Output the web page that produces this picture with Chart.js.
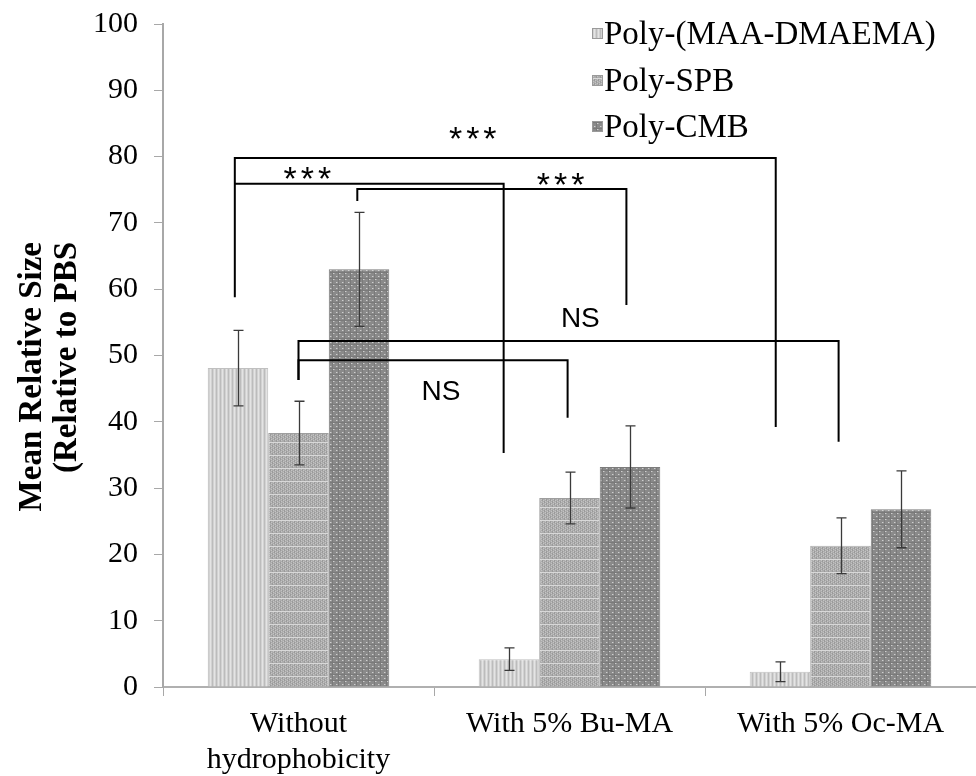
<!DOCTYPE html>
<html>
<head>
<meta charset="utf-8">
<script src="https://cdn.jsdelivr.net/npm/chart.js@4.4.1/dist/chart.umd.min.js"></script>
<style>
html,body{margin:0;padding:0;background:#fff;}
#c{display:block;}
</style>
</head>
<body>
<canvas id="c" width="976" height="776"></canvas>
<script>
// ---- data ----
const categories = [["Without", "hydrophobicity"], "With 5% Bu-MA", "With 5% Oc-MA"];
const seriesNames = ["Poly-(MAA-DMAEMA)", "Poly-SPB", "Poly-CMB"];
const maaValues = [48.1, 4.2, 2.3];
const maaErrors = [5.7, 1.7, 1.5];
const spbValues = [38.3, 28.5, 21.3];
const spbErrors = [4.8, 3.9, 4.2];
const cmbValues = [63.0, 33.2, 26.8];
const cmbErrors = [8.6, 6.2, 5.8];
const yMin = 0, yMax = 100, yStep = 10;
// significance brackets (x in category units, y in data units)
const bracketPaths = [
  [[-0.235, 58.8], [-0.235, 79.8], [1.761, 79.8], [1.761, 39.2]],
  [[-0.235, 75.9], [0.757, 75.9], [0.757, 35.3]],
  [[0.217, 73.3], [0.217, 75.1], [1.21, 75.1], [1.21, 57.6]],
  [[0.0, 46.3], [0.0, 52.2], [1.993, 52.2], [1.993, 37.0]],
  [[0.0, 46.3], [0.0, 49.3], [0.993, 49.3], [0.993, 40.6]]
];
const bracketLabels = [
  ["***", 0.643, 83.4],
  ["***", 0.033, 77.4],
  ["***", 0.967, 76.6],
  ["NS", 1.040, 55.4],
  ["NS", 0.526, 44.5]
];

// ---- patterns ----
function makePattern(w, h, draw) {
  const cv = document.createElement('canvas');
  cv.width = w; cv.height = h;
  const g = cv.getContext('2d');
  draw(g);
  return document.getElementById('c').getContext('2d').createPattern(cv, 'repeat');
}
const patMAA = makePattern(4, 4, g => {
  g.fillStyle = '#d2d2d2'; g.fillRect(0, 0, 4, 4);
  g.fillStyle = '#bcbcbc'; g.fillRect(0, 0, 1, 4);
  g.fillStyle = '#e4e4e4'; g.fillRect(2, 0, 1, 4);
});
const patSPB = makePattern(4, 13, g => {
  g.fillStyle = '#acacac'; g.fillRect(0, 0, 4, 13);
  g.fillStyle = '#9a9a9a';
  for (let y = 0; y < 13; y += 2) { g.fillRect((y % 4 === 0) ? 0 : 2, y, 1, 1); g.fillRect((y % 4 === 0) ? 2 : 0, y + 1, 1, 1); }
  g.fillStyle = '#c4c4c4';
  for (let y = 1; y < 13; y += 2) { g.fillRect(1, y, 1, 1); g.fillRect(3, y - 1, 1, 1); }
  g.fillStyle = '#d8d8d8'; g.fillRect(0, 0, 4, 1);
});
const patCMB = makePattern(6, 6, g => {
  g.fillStyle = '#8a8a8a'; g.fillRect(0, 0, 6, 6);
  g.fillStyle = '#7a7a7a'; g.fillRect(0, 2, 6, 1); g.fillRect(2, 0, 1, 6);
  g.fillStyle = '#cfcfcf'; g.fillRect(0, 0, 1, 1); g.fillRect(3, 3, 1, 1);
  g.fillStyle = '#a8a8a8'; g.fillRect(1, 0, 1, 1); g.fillRect(4, 3, 1, 1);
});

const errorSets = [maaErrors, spbErrors, cmbErrors];

// ---- plugins ----
const errorBarPlugin = {
  id: 'errorBars',
  afterDatasetsDraw(chart) {
    const ctx = chart.ctx, ys = chart.scales.y;
    ctx.save();
    ctx.strokeStyle = '#3a3a3a';
    ctx.lineWidth = 1.3;
    chart.data.datasets.forEach((ds, i) => {
      const meta = chart.getDatasetMeta(i);
      meta.data.forEach((bar, j) => {
        const v = ds.data[j], e = errorSets[i][j];
        const x = Math.round(bar.x) + 0.5;
        const yt = ys.getPixelForValue(v + e), yb = ys.getPixelForValue(v - e);
        ctx.beginPath();
        ctx.moveTo(x, yt); ctx.lineTo(x, yb);
        ctx.moveTo(x - 5, yt); ctx.lineTo(x + 5, yt);
        ctx.moveTo(x - 5, yb); ctx.lineTo(x + 5, yb);
        ctx.stroke();
      });
    });
    ctx.restore();
  }
};

const bracketPlugin = {
  id: 'brackets',
  afterDatasetsDraw(chart) {
    const ctx = chart.ctx, xs = chart.scales.x, ys = chart.scales.y;
    ctx.save();
    ctx.strokeStyle = '#000';
    ctx.lineWidth = 2;
    ctx.lineJoin = 'miter';
    bracketPaths.forEach(p => {
      ctx.beginPath();
      p.forEach((pt, k) => {
        const px = xs.getPixelForValue(pt[0]), py = ys.getPixelForValue(pt[1]);
        if (k === 0) ctx.moveTo(px, py); else ctx.lineTo(px, py);
      });
      ctx.stroke();
    });
    ctx.fillStyle = '#000';
    ctx.textAlign = 'center';
    ctx.textBaseline = 'middle';
    bracketLabels.forEach(l => {
      const px = xs.getPixelForValue(l[1]), py = ys.getPixelForValue(l[2]);
      if (l[0] === '***') {
        ctx.font = '34px "Liberation Sans", sans-serif';
        ctx.letterSpacing = '4px';
        ctx.fillText(l[0], px + 2, py + 7);
        ctx.letterSpacing = '0px';
      } else {
        ctx.font = '28px "Liberation Sans", sans-serif';
        ctx.fillText(l[0], px, py);
      }
    });
    ctx.restore();
  }
};

const legendTitlePlugin = {
  id: 'legendTitle',
  afterDraw(chart) {
    const ctx = chart.ctx;
    ctx.save();
    // legend
    const rows = [33, 80, 126];
    ctx.font = '33px "Liberation Serif", "Times New Roman", serif';
    ctx.textAlign = 'left';
    ctx.textBaseline = 'middle';
    chart.data.datasets.forEach((ds, i) => {
      const y = rows[i];
      ctx.fillStyle = ds.backgroundColor;
      ctx.fillRect(592, y - 5, 11, 11);
      ctx.strokeStyle = '#9a9a9a'; ctx.lineWidth = 1;
      ctx.strokeRect(592.5, y - 4.5, 10, 10);
      ctx.fillStyle = '#000';
      ctx.fillText(ds.label, 604, y + 2);
    });
    // y-axis title
    ctx.font = 'bold 33px "Liberation Serif", "Times New Roman", serif';
    ctx.textAlign = 'right';
    ctx.textBaseline = 'middle';
    const lines = ["Mean Relative Size", "(Relative to PBS"];
    const xs = [32, 67];
    lines.forEach((t, i) => {
      ctx.save();
      ctx.translate(xs[i], 242);
      ctx.rotate(-Math.PI / 2);
      ctx.fillText(t, 0, 0);
      ctx.restore();
    });
    ctx.restore();
  }
};

Chart.defaults.font.family = '"Liberation Serif", "Times New Roman", serif';
Chart.defaults.color = '#000';

new Chart(document.getElementById('c'), {
  type: 'bar',
  data: {
    labels: categories,
    datasets: [
      { label: seriesNames[0], data: maaValues, backgroundColor: patMAA, borderColor: '#c0c0c0', borderWidth: 1 },
      { label: seriesNames[1], data: spbValues, backgroundColor: patSPB, borderColor: '#9e9e9e', borderWidth: 1 },
      { label: seriesNames[2], data: cmbValues, backgroundColor: patCMB, borderColor: '#7c7c7c', borderWidth: 1 }
    ]
  },
  options: {
    responsive: false,
    animation: false,
    devicePixelRatio: 1,
    layout: { padding: { top: 24, right: 0, left: 0, bottom: 0 } },
    datasets: { bar: { categoryPercentage: 0.67, barPercentage: 1.0 } },
    plugins: {
      legend: { display: false },
      tooltip: { enabled: false },
      title: { display: false }
    },
    scales: {
      x: {
        type: 'category',
        offset: true,
        grid: { display: true, drawOnChartArea: false, drawTicks: true, tickLength: 9, color: '#a8a8a8', offset: true, lineWidth: 1 },
        border: { display: true, color: '#b0b0b0', width: 2 },
        ticks: { font: { size: 30 }, color: '#000', padding: 10, maxRotation: 0, minRotation: 0, autoSkip: false },
        afterFit(s) { s.height = 89; s.paddingLeft = 0; s.paddingRight = 0; }
      },
      y: {
        min: yMin, max: yMax,
        grid: { display: true, drawOnChartArea: false, drawTicks: true, tickLength: 9, color: '#a8a8a8' },
        border: { display: true, color: '#a8a8a8', width: 2 },
        ticks: { stepSize: yStep, font: { size: 30 }, color: '#000', padding: 16 },
        afterFit(s) { s.width = 163; s.paddingTop = 0; s.paddingBottom = 0; }
      }
    }
  },
  plugins: [errorBarPlugin, bracketPlugin, legendTitlePlugin]
});
</script>
</body>
</html>
